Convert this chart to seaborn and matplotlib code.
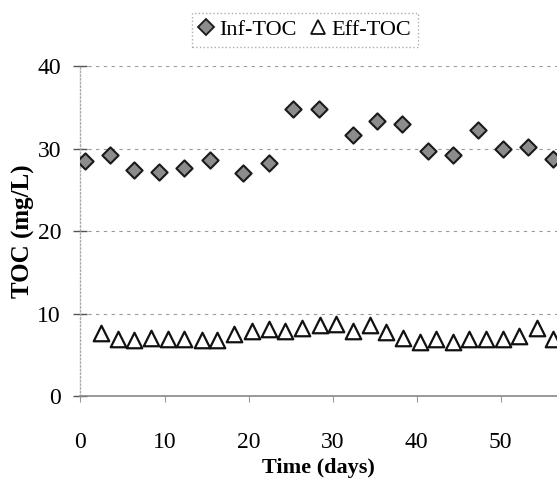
import matplotlib
matplotlib.use("Agg")
import matplotlib.pyplot as plt
import seaborn as sns
import pandas as pd
from matplotlib.lines import Line2D

# ---- data ----
inf_days = [0.5, 3.5, 6.4, 9.4, 12.3, 15.4, 19.3, 22.4, 25.3, 28.4, 32.4, 35.3,
            38.3, 41.3, 44.3, 47.3, 50.3, 53.2, 56.2]
inf_toc = [28.5, 29.2, 27.4, 27.2, 27.6, 28.6, 27.0, 28.3, 34.8, 34.8, 31.7, 33.4,
           33.0, 29.7, 29.2, 32.3, 29.9, 30.2, 28.7]
eff_days = [2.5, 4.5, 6.4, 8.4, 10.4, 12.3, 14.4, 16.3, 18.3, 20.4, 22.4, 24.3,
            26.4, 28.5, 30.4, 32.4, 34.4, 36.4, 38.4, 40.4, 42.3, 44.3, 46.2, 48.3,
            50.3, 52.2, 54.3, 56.2]
eff_toc = [7.7, 7.0, 6.8, 7.1, 7.0, 7.0, 6.8, 6.8, 7.6, 7.9, 8.1, 7.9, 8.3,
           8.7, 8.8, 7.9, 8.7, 7.8, 7.1, 6.6, 7.0, 6.6, 6.9, 7.0, 6.9, 7.3, 8.3, 7.0]
series_names = ["Inf-TOC", "Eff-TOC"]
y_ticks = [0, 10, 20, 30, 40]
x_ticks = [0, 10, 20, 30, 40, 50]

df = pd.concat([
    pd.DataFrame({"day": inf_days, "toc": inf_toc, "series": series_names[0]}),
    pd.DataFrame({"day": eff_days, "toc": eff_toc, "series": series_names[1]}),
])

sns.set_theme(style="white")
plt.rcParams["font.family"] = ["Liberation Serif", "DejaVu Serif"]
plt.rcParams["text.color"] = "black"
plt.rcParams["axes.labelcolor"] = "black"
plt.rcParams["xtick.labelcolor"] = "black"
plt.rcParams["ytick.labelcolor"] = "black"

fig = plt.figure(figsize=(5.57, 4.93), dpi=100)
ax = fig.add_axes([0.1445, 0.196, 1 - 0.1445, 0.866 - 0.196])

sns.scatterplot(data=df[df.series == "Inf-TOC"], x="day", y="toc", ax=ax,
                marker="D", s=68, color="#8c8c8c", edgecolor="#1a1a1a",
                linewidth=1.5, legend=False, zorder=3)
sns.scatterplot(data=df[df.series == "Eff-TOC"], x="day", y="toc", ax=ax,
                marker="^", s=125, color="white", edgecolor="#111111",
                linewidth=1.6, legend=False, zorder=3)

ax.set_xlim(0, 56.7)
ax.set_ylim(0, 40)
ax.set_xticks(x_ticks)
ax.set_yticks(y_ticks)
ax.set_xticklabels([str(v) for v in x_ticks])
ax.set_yticklabels([str(v) for v in y_ticks])

ax.yaxis.grid(True, color="#9a9a9a", linestyle=(0, (3, 4)), linewidth=0.8)
ax.xaxis.grid(False)
for side in ["top", "right"]:
    ax.spines[side].set_visible(False)
ax.spines["left"].set_color("#aaaaaa")
ax.spines["left"].set_linestyle(":")
ax.spines["left"].set_linewidth(1.0)
ax.spines["bottom"].set_color("#888888")
ax.spines["bottom"].set_linewidth(1.2)

ax.tick_params(axis="y", direction="inout", length=10, width=1.0, color="#555555",
               labelsize=17, pad=9, left=True)
ax.tick_params(axis="x", direction="out", length=4, width=0.8, color="#999999",
               labelsize=17, pad=22, bottom=True)

ax.set_xlabel("Time (days)", fontsize=16, fontweight="bold", labelpad=3)
ax.set_ylabel("TOC (mg/L)", fontsize=18, fontweight="bold", labelpad=2)

handles = [
    Line2D([], [], marker="D", linestyle="none", markersize=8.2,
           markerfacecolor="#8c8c8c", markeredgecolor="#1a1a1a", markeredgewidth=1.3),
    Line2D([], [], marker="^", linestyle="none", markersize=10,
           markerfacecolor="white", markeredgecolor="#111111", markeredgewidth=1.3),
]
leg = fig.legend(handles, series_names, loc="center", ncol=2,
                 bbox_to_anchor=(305 / 557, 1 - 30 / 493), fontsize=16,
                 frameon=True, fancybox=False, handlelength=0.7,
                 handletextpad=0.25, columnspacing=0.6, borderpad=0.3,
                 borderaxespad=0, edgecolor="#999999")
leg.get_frame().set_linestyle(":")
leg.get_frame().set_linewidth(1.0)

fig.savefig("out.png", dpi=100)
